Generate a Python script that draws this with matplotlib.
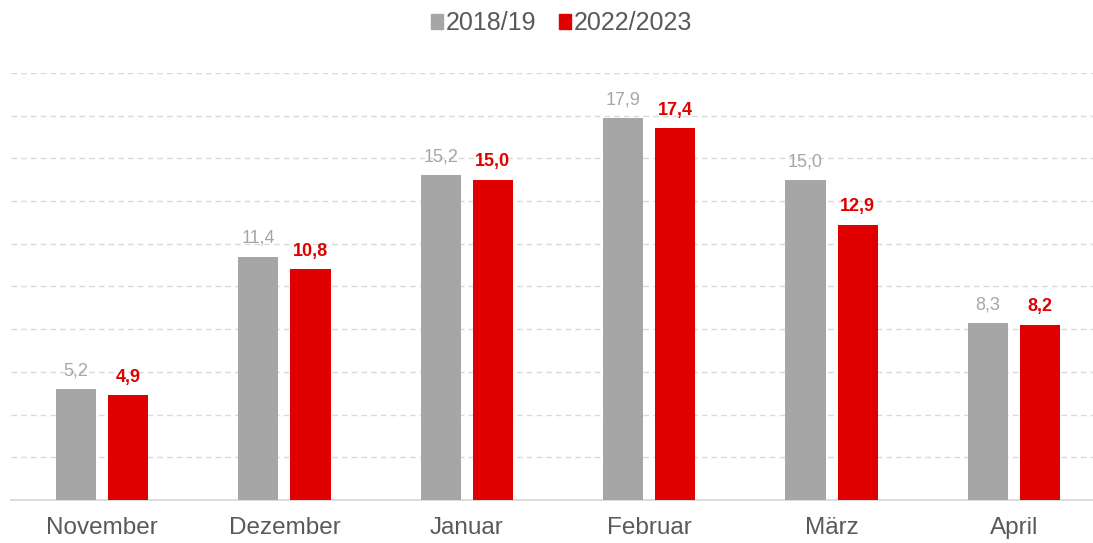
import matplotlib.pyplot as plt
import numpy as np
from matplotlib.patches import Patch

plt.rcParams["font.family"] = ["Liberation Sans", "DejaVu Sans"]

MONTHS = ["November", "Dezember", "Januar", "Februar", "März", "April"]
SERIES_NAMES = ["2018/19", "2022/2023"]
VALUES_2018 = [5.2, 11.4, 15.2, 17.9, 15.0, 8.3]
VALUES_2022 = [4.9, 10.8, 15.0, 17.4, 12.9, 8.2]

GRAY = "#A6A6A6"
RED = "#DF0000"
TEXT = "#595959"


def fmt(v: float) -> str:
    return f"{v:.1f}".replace(".", ",")


def main() -> None:
    fig = plt.figure(figsize=(10.93, 5.43), dpi=100)
    ax = fig.add_axes([0.0099, 0.0792, 1.0013, 0.7864])

    x = np.arange(len(MONTHS))
    width = 0.22
    offset = 0.143

    bars_a = ax.bar(x - offset, VALUES_2018, width, color=GRAY, zorder=3)
    bars_b = ax.bar(x + offset, VALUES_2022, width, color=RED, zorder=3)

    for bar, v in zip(bars_a, VALUES_2018):
        ax.annotate(fmt(v), (bar.get_x() + bar.get_width() / 2, v), xytext=(0, 7),
                    textcoords="offset points", ha="center", va="bottom",
                    fontsize=13, color=GRAY)
    for bar, v in zip(bars_b, VALUES_2022):
        ax.annotate(fmt(v), (bar.get_x() + bar.get_width() / 2, v), xytext=(0, 7),
                    textcoords="offset points", ha="center", va="bottom",
                    fontsize=13, color=RED, fontweight="bold")

    ax.set_xlim(-0.5, len(MONTHS) - 0.5)
    ax.set_ylim(0, 20)
    ax.set_yticks(np.arange(2, 21, 2))
    ax.yaxis.grid(True, color="#D9D9D9", linestyle=(0, (4, 3)), linewidth=1, zorder=0)
    ax.tick_params(axis="y", left=False, labelleft=False)
    ax.tick_params(axis="x", length=0, pad=12, labelsize=17.5, labelcolor=TEXT)
    ax.set_xticks(x)
    ax.set_xticklabels(MONTHS)

    for side in ["top", "right", "left"]:
        ax.spines[side].set_visible(False)
    ax.spines["bottom"].set_color("#D9D9D9")
    ax.spines["bottom"].set_linewidth(1.3)

    handles = [Patch(color=GRAY, label=SERIES_NAMES[0]), Patch(color=RED, label=SERIES_NAMES[1])]
    fig.legend(handles=handles, loc="center", bbox_to_anchor=(0.5135, 0.957), ncol=2,
               frameon=False, fontsize=18, labelcolor=TEXT, handlelength=0.5,
               handleheight=0.5, handletextpad=0.1, columnspacing=0.9)

    fig.savefig("out.png", dpi=100)


if __name__ == "__main__":
    main()
